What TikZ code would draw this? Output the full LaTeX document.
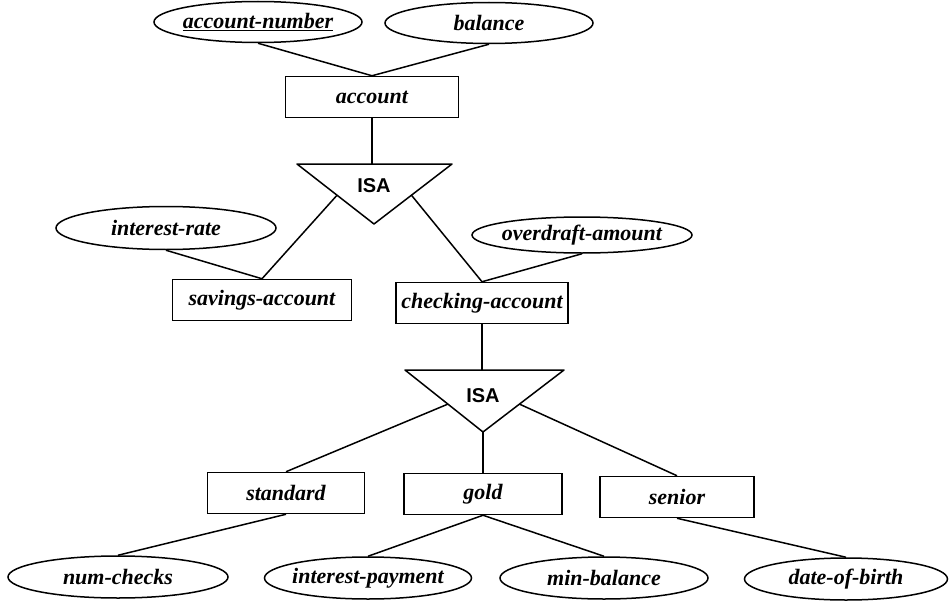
\documentclass[tikz,border=0pt]{standalone}
\usepackage{fontspec}
\setmainfont{Liberation Serif}
\newfontfamily\isafont{Liberation Sans}
\usetikzlibrary{shapes.geometric,calc}

\tikzset{
  ertext/.style={font=\fontsize{22}{26}\selectfont\bfseries\itshape},
  entity/.style={draw, rectangle, line width=1.5pt, ertext, minimum height=41pt, inner sep=0pt},
  attrib/.style={draw, ellipse, line width=1.5pt, ertext, minimum height=41pt, inner xsep=-6pt, inner ysep=0pt},
  isatext/.style={font=\fontsize{20}{24}\selectfont\isafont\bfseries},
  link/.style={line width=1.5pt, line join=round}
}

\begin{document}
\begin{tikzpicture}[x=1pt,y=-1pt]
    \useasboundingbox (0,0) rectangle (950,602);

    % entities
    \node[entity, minimum width=173pt] (account) at (372,97) {account};
    \node[entity, minimum width=179pt] (savings) at (262,300) {savings-account};
    \node[entity, minimum width=172pt] (checking) at (482,303) {checking-account};
    \node[entity, minimum width=157pt] (standard) at (286,493) {standard};
    \node[entity, minimum width=158pt] (gold) at (483,494) {gold};
    \node[entity, minimum width=154pt] (senior) at (677,497) {senior};

    % attributes
    \node[attrib, minimum width=208pt] (accnum) at (258,22) {\underline{account-number}};
    \node[attrib, minimum width=208pt] (balance) at (489,23) {balance};
    \node[attrib, minimum width=220pt, minimum height=43pt] (intrate) at (166,228) {interest-rate};
    \node[attrib, minimum width=220pt, minimum height=36pt] (overdraft) at (582,235) {overdraft-amount};
    \node[attrib, minimum width=220pt, minimum height=42pt] (numchecks) at (118,577) {num-checks};
    \node[attrib, minimum width=207pt, minimum height=42pt] (intpay) at (368,578) {interest-payment};
    \node[attrib, minimum width=208pt, minimum height=42pt] (minbal) at (604,578) {min-balance};
    \node[attrib, minimum width=203pt, minimum height=42pt] (dob) at (846,579) {date-of-birth};

    % isa triangles
    \coordinate (isa1tl) at (297,164);
    \coordinate (isa1tr) at (452,164);
    \coordinate (isa1b) at (374,224);
    \draw[link] (isa1tl) -- (isa1tr) -- (isa1b) -- cycle;
    \node[isatext] (isa1) at (374,186) {ISA};
    \coordinate (isa1l) at ($(isa1tl)!0.52!(isa1b)$);
    \coordinate (isa1r) at ($(isa1tr)!0.52!(isa1b)$);

    \coordinate (isa2tl) at (405,370);
    \coordinate (isa2tr) at (564,370);
    \coordinate (isa2b) at (483,432);
    \draw[link] (isa2tl) -- (isa2tr) -- (isa2b) -- cycle;
    \node[isatext] (isa2) at (483,396) {ISA};
    \coordinate (isa2l) at ($(isa2tl)!0.55!(isa2b)$);
    \coordinate (isa2r) at ($(isa2tr)!0.55!(isa2b)$);

    % links
    \draw[link] (accnum.south) -- (account.north);
    \draw[link] (balance.south) -- (account.north);
    \draw[link] (account.south) -- (account.south |- isa1tl);
    \draw[link] (isa1l) -- (savings.north);
    \draw[link] (isa1r) -- (checking.north);
    \draw[link] (intrate.south) -- (savings.north);
    \draw[link] (overdraft.south) -- (checking.north);
    \draw[link] (checking.south) -- (checking.south |- isa2tl);
    \draw[link] (isa2l) -- (standard.north);
    \draw[link] (isa2b) -- (gold.north);
    \draw[link] (isa2r) -- (senior.north);
    \draw[link] (standard.south) -- (numchecks.north);
    \draw[link] (gold.south) -- (intpay.north);
    \draw[link] (gold.south) -- (minbal.north);
    \draw[link] (senior.south) -- (dob.north);
\end{tikzpicture}
\end{document}
